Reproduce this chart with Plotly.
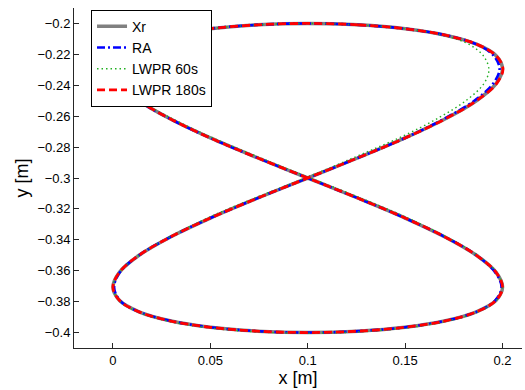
import plotly.graph_objects as go

# Reference trajectory Xr (figure eight)
xr_x = [0.1000, 0.1259, 0.1500, 0.1707, 0.1866, 0.1966, 0.2000, 0.1966, 0.1866, 0.1707, 0.1500, 0.1259, 0.1000,
        0.0741, 0.0500, 0.0293, 0.0134, 0.0034, 0.0000, 0.0034, 0.0134, 0.0293, 0.0500, 0.0741, 0.1000,
        0.1259, 0.1500, 0.1707, 0.1866, 0.1966, 0.2000, 0.1966, 0.1866, 0.1707, 0.1500, 0.1259, 0.1000,
        0.0741, 0.0500, 0.0293, 0.0134, 0.0034, 0.0000, 0.0034, 0.0134, 0.0293, 0.0500, 0.0741, 0.1000]
xr_y = [-0.2000, -0.2009, -0.2034, -0.2076, -0.2134, -0.2207, -0.2293, -0.2391, -0.2500, -0.2617, -0.2741, -0.2869, -0.3000,
        -0.3131, -0.3259, -0.3383, -0.3500, -0.3609, -0.3707, -0.3793, -0.3866, -0.3924, -0.3966, -0.3991, -0.4000,
        -0.3991, -0.3966, -0.3924, -0.3866, -0.3793, -0.3707, -0.3609, -0.3500, -0.3383, -0.3259, -0.3131, -0.3000,
        -0.2869, -0.2741, -0.2617, -0.2500, -0.2391, -0.2293, -0.2207, -0.2134, -0.2076, -0.2034, -0.2009, -0.2000]

# RA
ra_x = [0.1000, 0.1259, 0.1500, 0.1707, 0.1866, 0.1955, 0.1985, 0.1950, 0.1855, 0.1700, 0.1500, 0.1259, 0.1000,
        0.0741, 0.0500, 0.0293, 0.0134, 0.0036, 0.0006, 0.0036, 0.0134, 0.0293, 0.0500, 0.0741, 0.1000,
        0.1259, 0.1500, 0.1707, 0.1866, 0.1962, 0.1995, 0.1962, 0.1866, 0.1707, 0.1500, 0.1259, 0.1000,
        0.0741, 0.0500, 0.0293, 0.0134, 0.0034, 0.0000, 0.0034, 0.0134, 0.0293, 0.0500, 0.0741, 0.1000]
ra_y = [-0.2000, -0.2009, -0.2034, -0.2076, -0.2134, -0.2209, -0.2295, -0.2392, -0.2500, -0.2617, -0.2741, -0.2869, -0.3000,
        -0.3131, -0.3259, -0.3383, -0.3500, -0.3609, -0.3707, -0.3793, -0.3866, -0.3924, -0.3966, -0.3991, -0.4000,
        -0.3991, -0.3966, -0.3924, -0.3866, -0.3793, -0.3707, -0.3609, -0.3500, -0.3383, -0.3259, -0.3131, -0.3000,
        -0.2869, -0.2741, -0.2617, -0.2500, -0.2391, -0.2293, -0.2207, -0.2134, -0.2076, -0.2034, -0.2009, -0.2000]

# LWPR 60s
l60_x = [0.1000, 0.1259, 0.1500, 0.1700, 0.1835, 0.1905, 0.1930, 0.1905, 0.1820, 0.1680, 0.1490, 0.1255, 0.1000,
         0.0741, 0.0500, 0.0293, 0.0134, 0.0034, 0.0000, 0.0034, 0.0134, 0.0293, 0.0500, 0.0741, 0.1000,
         0.1259, 0.1500, 0.1707, 0.1866, 0.1966, 0.2000, 0.1966, 0.1866, 0.1707, 0.1500, 0.1259, 0.1000,
         0.0741, 0.0500, 0.0293, 0.0134, 0.0034, 0.0000, 0.0034, 0.0134, 0.0293, 0.0500, 0.0741, 0.1000]
l60_y = [-0.2000, -0.2009, -0.2034, -0.2078, -0.2140, -0.2215, -0.2300, -0.2388, -0.2492, -0.2605, -0.2728, -0.2858, -0.2993,
         -0.3123, -0.3251, -0.3380, -0.3500, -0.3609, -0.3707, -0.3795, -0.3869, -0.3929, -0.3971, -0.3996, -0.4004,
         -0.3996, -0.3971, -0.3929, -0.3869, -0.3795, -0.3707, -0.3607, -0.3496, -0.3378, -0.3251, -0.3123, -0.2993,
         -0.2861, -0.2733, -0.2609, -0.2495, -0.2389, -0.2293, -0.2207, -0.2134, -0.2076, -0.2034, -0.2009, -0.2000]

# LWPR 180s
l180_x = [0.1000, 0.1259, 0.1500, 0.1707, 0.1866, 0.1966, 0.2002, 0.1968, 0.1866, 0.1707, 0.1500, 0.1259, 0.1000,
          0.0741, 0.0500, 0.0293, 0.0134, 0.0034, 0.0000, 0.0034, 0.0134, 0.0293, 0.0500, 0.0741, 0.1000,
          0.1259, 0.1500, 0.1707, 0.1866, 0.1966, 0.2000, 0.1966, 0.1866, 0.1707, 0.1500, 0.1259, 0.1000,
          0.0741, 0.0500, 0.0293, 0.0134, 0.0034, 0.0000, 0.0034, 0.0134, 0.0293, 0.0500, 0.0741, 0.1000]
l180_y = [-0.2000, -0.2009, -0.2034, -0.2076, -0.2134, -0.2207, -0.2293, -0.2391, -0.2500, -0.2617, -0.2741, -0.2869, -0.3000,
          -0.3131, -0.3259, -0.3383, -0.3500, -0.3609, -0.3707, -0.3793, -0.3866, -0.3924, -0.3966, -0.3991, -0.4000,
          -0.3991, -0.3966, -0.3924, -0.3866, -0.3793, -0.3707, -0.3609, -0.3500, -0.3383, -0.3259, -0.3131, -0.3000,
          -0.2869, -0.2741, -0.2617, -0.2500, -0.2391, -0.2293, -0.2207, -0.2134, -0.2076, -0.2034, -0.2009, -0.2000]

x_tick_vals = [0, 0.05, 0.1, 0.15, 0.2]
x_tick_text = ["0", "0.05", "0.1", "0.15", "0.2"]
y_tick_vals = [-0.4, -0.38, -0.36, -0.34, -0.32, -0.3, -0.28, -0.26, -0.24, -0.22, -0.2]
y_tick_text = ["\u22120.4", "\u22120.38", "\u22120.36", "\u22120.34", "\u22120.32", "\u22120.3",
               "\u22120.28", "\u22120.26", "\u22120.24", "\u22120.22", "\u22120.2"]

FONT = "Liberation Sans, Arial, Helvetica, sans-serif"

fig = go.Figure()
fig.add_trace(go.Scatter(x=xr_x, y=xr_y, mode="lines", name="Xr",
                         line=dict(color="#808080", width=3.5, shape="spline")))
fig.add_trace(go.Scatter(x=ra_x, y=ra_y, mode="lines", name="RA",
                         line=dict(color="#0000ff", width=2.6, dash="8px,3px,2px,3px", shape="spline")))
fig.add_trace(go.Scatter(x=l60_x, y=l60_y, mode="lines", name="LWPR 60s",
                         line=dict(color="#22b022", width=1.4, dash="1.5px,3px", shape="spline")))
fig.add_trace(go.Scatter(x=l180_x, y=l180_y, mode="lines", name="LWPR 180s",
                         line=dict(color="#ff0000", width=2.8, dash="8px,4px", shape="spline")))

axis_common = dict(showgrid=False, zeroline=False, showline=True, linecolor="#262626", linewidth=1,
                   ticks="inside", ticklen=5, tickcolor="#262626", mirror=False, automargin=False,
                   tickfont=dict(family=FONT, size=13, color="#000000"))

fig.update_layout(
    width=525, height=390,
    margin=dict(l=74, r=3, t=8, b=42),
    paper_bgcolor="white", plot_bgcolor="white",
    font=dict(family=FONT, color="#000000"),
    xaxis=dict(range=[-0.02, 0.21], tickvals=x_tick_vals, ticktext=x_tick_text,
               title=dict(text="x [m]", font=dict(family=FONT, size=18), standoff=0), **axis_common),
    yaxis=dict(range=[-0.41, -0.19], tickvals=y_tick_vals, ticktext=y_tick_text,
               title=dict(text="y [m]", font=dict(family=FONT, size=18), standoff=4), **axis_common),
    legend=dict(x=0.038, y=0.995, xanchor="left", yanchor="top",
                bgcolor="white", bordercolor="#000000", borderwidth=1,
                font=dict(family=FONT, size=14), tracegroupgap=0, itemwidth=30,
                entrywidth=95, entrywidthmode="pixels"),
    showlegend=True,
)

fig.write_html("out.html", config={"displayModeBar": False},
               post_script="document.body.style.margin='0';document.body.style.overflow='hidden';")
